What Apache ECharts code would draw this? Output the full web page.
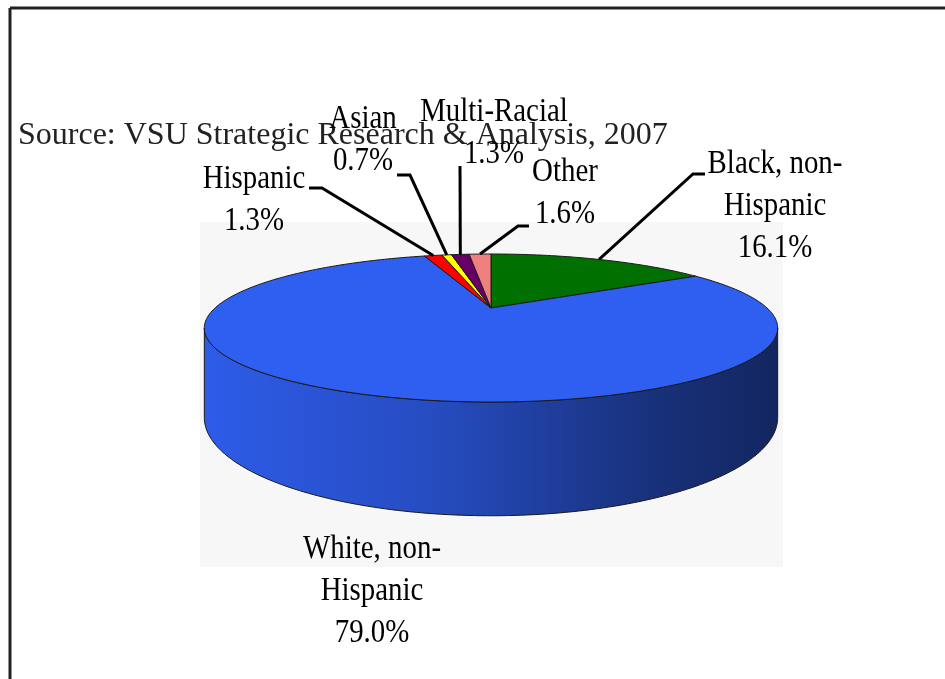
<!DOCTYPE html>
<html>
<head>
<meta charset="utf-8">
<script src="https://cdn.jsdelivr.net/npm/echarts@6/dist/echarts.min.js"></script>
<style>
  html, body { margin: 0; padding: 0; background: #fff; }
  #main { width: 945px; height: 679px; }
</style>
</head>
<body>
<div id="main"></div>
<script>
  // data (clockwise from 12 o'clock)
  var categories = ['Black, non-\nHispanic', 'White, non-\nHispanic', 'Hispanic', 'Asian', 'Multi-Racial', 'Other']
  var values = [16.1, 79.0, 1.3, 0.7, 1.3, 1.6]
  var sourceText = 'Source: VSU Strategic Research & Analysis, 2007'

  // styles
  var colors = ['#007000', '#2f5ff0', '#ff0000', '#ffff00', '#660066', '#f08080']
  // label placement: [center x, top of first line]
  var labelPos = [[775, 143], [372, 528], [254, 158], [363, 98], [494, 91], [565, 151]]
  // leader line points, label side first
  var leaderPts = [
    [[705, 174], [693, 174]],
    null,
    [[309, 188], [322, 188]],
    [[397, 175], [410, 175]],
    [[460, 166]],
    [[529, 226], [518, 226]]
  ]

  // 3d pie layout (simple perspective)
  var CX = 491, CY = 308, RX = 276, KY = 68.6, D = 3.7, H = 83
  var FRONT0 = Math.acos(-1 / D), FRONT1 = 2 * Math.PI - FRONT0

  var total = values.reduce(function (s, v) { return s + v }, 0)

  function proj (theta, drop) {
    var sx = Math.sin(theta), z = Math.cos(theta)
    var s = D / (D + z)
    return [CX + RX * sx * s, CY - KY * z * s + drop * s]
  }

  function arc (a0, a1, drop) {
    var n = Math.max(2, Math.ceil((a1 - a0) / (Math.PI / 180)))
    var pts = []
    for (var k = 0; k <= n; k++) {
      pts.push(proj(a0 + (a1 - a0) * k / n, drop))
    }
    return pts
  }

  function shade (hex, f) {
    var c = echarts.color.parse(hex)
    return 'rgb(' + Math.round(c[0] * f) + ',' + Math.round(c[1] * f) + ',' + Math.round(c[2] * f) + ')'
  }

  function renderItem (params, api) {
    var i = params.dataIndex
    var before = 0
    for (var k = 0; k < i; k++) before += values[k]
    var a0 = before / total * 2 * Math.PI
    var a1 = (before + values[i]) / total * 2 * Math.PI
    var children = []

    // top face
    children.push({
      type: 'polygon',
      z2: 5,
      shape: { points: [[CX, CY]].concat(arc(a0, a1, 0)) },
      style: { fill: colors[i], stroke: '#1a1a1a', lineWidth: 1 }
    })

    // front wall
    var w0 = Math.max(a0, FRONT0), w1 = Math.min(a1, FRONT1)
    if (w1 > w0) {
      children.push({
        type: 'polygon',
        z2: 1,
        shape: { points: arc(w0, w1, 0).concat(arc(w0, w1, H).reverse()) },
        style: {
          fill: {
            type: 'linear', x: 0, y: 0, x2: 1, y2: 0,
            colorStops: [
              { offset: 0, color: shade(colors[i], 0.97) },
              { offset: 0.4, color: shade(colors[i], 0.8) },
              { offset: 0.8, color: shade(colors[i], 0.5) },
              { offset: 1, color: shade(colors[i], 0.4) }
            ]
          },
          stroke: '#1a1a1a',
          lineWidth: 1
        }
      })
    }

    // leader line
    if (leaderPts[i]) {
      var mid = (a0 + a1) / 2
      children.push({
        type: 'polyline',
        z2: 10,
        shape: { points: [proj(mid, 0)].concat(leaderPts[i].slice().reverse()) },
        style: { stroke: '#000', lineWidth: 3, fill: 'none' }
      })
    }

    // label
    children.push({
      type: 'text',
      z2: 20,
      x: labelPos[i][0],
      y: labelPos[i][1],
      scaleX: 0.85,
      style: {
        text: categories[i] + '\n' + values[i].toFixed(1) + '%',
        fill: '#000',
        fontSize: 34,
        fontFamily: 'Liberation Serif',
        align: 'center',
        verticalAlign: 'top',
        lineHeight: 42
      }
    })

    return { type: 'group', children: children }
  }

  var chart = echarts.init(document.getElementById('main'))
  chart.setOption({
    animation: false,
    graphic: [
      { type: 'rect', z: 0, shape: { x: 200, y: 222, width: 583, height: 345 }, style: { fill: '#f7f7f7' } },
      { type: 'line', z: 0, shape: { x1: 10, y1: 8, x2: 945, y2: 8 }, style: { stroke: '#222', lineWidth: 3 } },
      { type: 'line', z: 0, shape: { x1: 10, y1: 8, x2: 10, y2: 679 }, style: { stroke: '#222', lineWidth: 3 } },
      {
        type: 'text',
        z: 1,
        x: 18,
        y: 118,
        style: {
          text: sourceText,
          fill: '#222',
          fontSize: 32,
          fontFamily: 'Liberation Serif',
          verticalAlign: 'top',
          lineHeight: 36
        }
      }
    ],
    series: [{
      type: 'custom',
      coordinateSystem: 'none',
      renderItem: renderItem,
      data: values
    }]
  })
</script>
</body>
</html>
